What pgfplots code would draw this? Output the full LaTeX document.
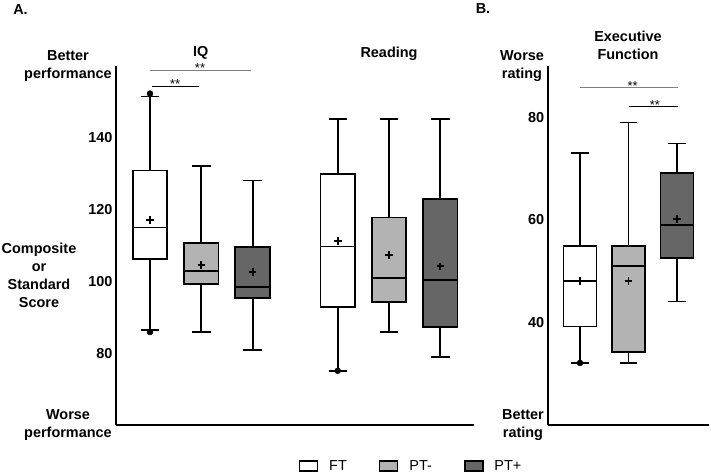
\documentclass[border=0pt]{standalone}
\usepackage{pgfplots}
\pgfplotsset{compat=1.18}
\usepgfplotslibrary{statistics}
\usepackage{fontspec}
\setmainfont{Liberation Sans}
\definecolor{ptm}{HTML}{B3B3B3}
\definecolor{ptp}{HTML}{666666}
\definecolor{sigline}{HTML}{7F7F7F}
\tikzset{stars/.style={font=\fontsize{13}{14}\selectfont, anchor=base, inner sep=0pt, yshift=-7.4bp}}
\begin{document}
\begin{tikzpicture}
\useasboundingbox (0bp,0bp) rectangle (711bp,475bp);
\pgfplotsset{
  myax/.style={
    scale only axis,
    axis x line*=bottom, axis y line*=left,
    axis line style={line width=2.2bp,-},
    xtick=\empty,
    major tick length=0pt,
    yticklabel style={font=\bfseries\fontsize{14.5}{16}\selectfont},
    /pgf/number format/assume math mode=true,
    clip=false,
    boxplot/draw direction=y,
    boxplot/whisker extend=0.36,
    boxplot/every average/.style={/tikz/mark=+, /tikz/mark size=3.8bp, /tikz/line width=1.8bp, /tikz/draw=black},
  },
  bx/.style={draw=black, line width=1.8bp, solid, forget plot},
  dot/.style={only marks, mark=*, mark size=3bp, black, forget plot},
}
% ---------- Panel A ----------
\begin{axis}[myax, at={(116bp,50bp)}, anchor=south west, width=358bp, height=359bp,
  xmin=0.337, xmax=7.316, ymin=60, ymax=160, ytick={80,100,120,140},
  boxplot/box extend=0.672,
  legend columns=3,
  legend style={at={(axis description cs:0.824,-0.114)}, anchor=center, draw=none, fill=none,
    font=\fontsize{14.5}{16}\selectfont,
    /tikz/every odd column/.append style={column sep=9bp},
    /tikz/every even column/.append style={column sep=30bp}},
]
% IQ
\addplot[bx, fill=white, boxplot prepared={draw position=1, median=115.0, upper quartile=130.9, lower quartile=106.2, upper whisker=151.5, lower whisker=86.4, average=117.1}] coordinates {};
\addplot[bx, fill=ptm, boxplot prepared={draw position=2, median=103.0, upper quartile=110.8, lower quartile=99.3, upper whisker=132.2, lower whisker=86.0, average=104.6}] coordinates {};
\addplot[bx, fill=ptp, boxplot prepared={draw position=3, median=98.5, upper quartile=109.6, lower quartile=95.4, upper whisker=128.1, lower whisker=81.0, average=102.7}] coordinates {};
% Reading
\addplot[bx, fill=white, boxplot prepared={draw position=4.66, median=109.7, upper quartile=130.0, lower quartile=92.8, upper whisker=145.2, lower whisker=75.1, average=111.3}] coordinates {};
\addplot[bx, fill=ptm, boxplot prepared={draw position=5.66, median=101.0, upper quartile=117.8, lower quartile=94.3, upper whisker=145.2, lower whisker=86.0, average=107.4}] coordinates {};
\addplot[bx, fill=ptp, boxplot prepared={draw position=6.66, median=100.5, upper quartile=122.9, lower quartile=87.3, upper whisker=145.2, lower whisker=79.0, average=104.2}] coordinates {};
\addplot[dot] coordinates {(1,152.3) (1,85.9) (4.66,75.1)};
% significance
\draw[sigline, line width=1bp] (axis cs:1,158.8) -- (axis cs:2.96,158.8);
\draw[black, line width=1bp] (axis cs:1.03,154.2) -- (axis cs:1.955,154.2);
\node[stars] at (axis cs:1.975,160.2) {**};
\node[stars] at (axis cs:1.49,155.7) {**};
% legend
\addlegendimage{legend image code/.code={\draw[fill=white, draw=black, line width=1.6bp] (0bp,-5bp) rectangle (18bp,5bp);}}
\addlegendentry{FT}
\addlegendimage{legend image code/.code={\draw[fill=ptm, draw=black, line width=1.6bp] (0bp,-5bp) rectangle (18bp,5bp);}}
\addlegendentry{PT-}
\addlegendimage{legend image code/.code={\draw[fill=ptp, draw=black, line width=1.6bp] (0bp,-5bp) rectangle (18bp,5bp);}}
\addlegendentry{PT+}
\end{axis}
% ---------- Panel B ----------
\begin{axis}[myax, at={(547.7bp,50bp)}, anchor=south west, width=161.3bp, height=359bp,
  xmin=0.334, xmax=3.66, ymin=20, ymax=90, ytick={40,60,80},
  boxplot/box extend=0.68,
]
\addplot[bx, fill=white, boxplot prepared={draw position=1, median=48.1, upper quartile=54.9, lower quartile=39.2, upper whisker=73.0, lower whisker=32.1, average=48.1}] coordinates {};
\addplot[bx, fill=ptm, boxplot prepared={draw position=2, median=51.0, upper quartile=54.9, lower quartile=34.3, upper whisker=79.0, lower whisker=32.1, average=48.1}] coordinates {};
\addplot[bx, fill=ptp, boxplot prepared={draw position=3, median=59.0, upper quartile=69.1, lower quartile=52.5, upper whisker=74.9, lower whisker=44.1, average=60.2}] coordinates {};
\addplot[dot] coordinates {(1,32.1)};
\draw[sigline, line width=1bp] (axis cs:1,85.8) -- (axis cs:3.02,85.8);
\draw[black, line width=1bp] (axis cs:2.016,82.1) -- (axis cs:3.02,82.1);
\node[stars] at (axis cs:2.086,86.7) {**};
\node[stars] at (axis cs:2.546,83.0) {**};
\end{axis}
% ---------- Text ----------
\begin{scope}[every node/.style={font=\bfseries\fontsize{14.5}{18}\selectfont, align=center, inner sep=0pt}]
\node at (20.5bp,465bp) {A.};
\node at (483bp,466bp) {B.};
\node at (200.7bp,422bp) {IQ};
\node at (389bp,421bp) {Reading};
\node at (628bp,430bp) {Executive\\Function};
\node at (68bp,409bp) {Better\\performance};
\node at (39bp,200bp) {Composite\\or\\Standard\\Score};
\node at (68bp,49.7bp) {Worse\\performance};
\node at (522bp,409bp) {Worse\\rating};
\node at (523bp,49.7bp) {Better\\rating};
\end{scope}
\end{tikzpicture}
\end{document}
